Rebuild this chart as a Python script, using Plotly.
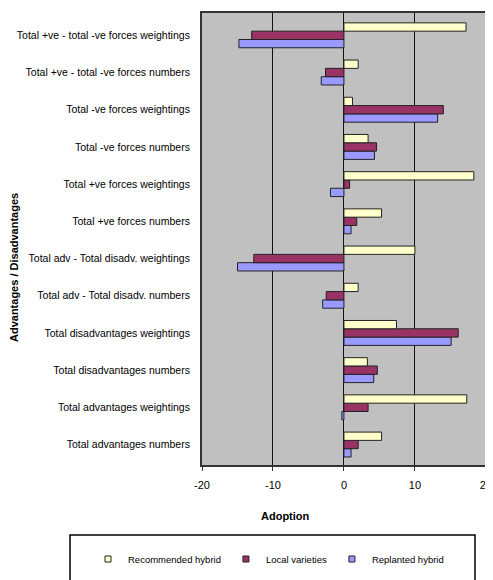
import plotly.graph_objects as go

categories = [
    "Total advantages numbers",
    "Total advantages weightings",
    "Total disadvantages numbers",
    "Total disadvantages weightings",
    "Total adv - Total disadv. numbers",
    "Total adv - Total disadv. weightings",
    "Total +ve forces numbers",
    "Total +ve forces weightings",
    "Total -ve forces numbers",
    "Total -ve forces weightings",
    "Total +ve - total -ve forces numbers",
    "Total +ve - total -ve forces weightings",
]

recommended_hybrid = [5.3, 17.3, 3.3, 7.4, 2.0, 10.0, 5.3, 18.3, 3.4, 1.2, 2.0, 17.2]
local_varieties = [2.0, 3.4, 4.7, 16.1, -2.5, -12.7, 1.8, 0.8, 4.6, 14.0, -2.6, -13.0]
replanted_hybrid = [1.0, -0.3, 4.2, 15.1, -3.0, -15.0, 1.0, -1.9, 4.3, 13.2, -3.2, -14.8]

series_names = ["Recommended hybrid", "Local varieties", "Replanted hybrid"]
series_colors = ["#FFFFCC", "#993366", "#9999FF"]

x_tick_values = [-20, -10, 0, 10, 20]
x_tick_labels = ["-20", "-10", "0", "10", "20"]

fig = go.Figure()
# plotly places grouped horizontal bars bottom-up, so add the lowest bar first
for name, vals, color in [
    (series_names[2], replanted_hybrid, series_colors[2]),
    (series_names[1], local_varieties, series_colors[1]),
    (series_names[0], recommended_hybrid, series_colors[0]),
]:
    fig.add_trace(go.Bar(
        y=categories, x=vals, name=name, orientation="h",
        marker=dict(color=color, line=dict(color="#222222", width=1)),
        showlegend=False,
    ))

# legend entries with small square swatches
for rank, (name, color) in enumerate(zip(series_names, series_colors)):
    fig.add_trace(go.Scatter(
        x=[None], y=[None], mode="markers", name=name,
        marker=dict(symbol="square", size=6, color=color, line=dict(color="#222222", width=1)),
        legendrank=rank + 1, showlegend=True,
    ))

# page has an 8px body margin; figure coords = page coords - 8
W, H = 485, 572
L, R, T, B = 194, 0, 5, 115
ph = H - T - B

def py(pix):
    return (H - B - (pix - 8)) / ph

def px(pix):
    return ((pix - 8) - L) / (W - L - R)

fig.update_layout(
    width=W, height=H,
    margin=dict(l=L, r=R, t=T, b=B, autoexpand=False),
    paper_bgcolor="white",
    plot_bgcolor="#C0C0C0",
    barmode="group",
    bargap=0.33,
    bargroupgap=0.0,
    font=dict(family="Arial, Liberation Sans, sans-serif", color="black", size=10),
    showlegend=True,
    legend=dict(
        orientation="h", x=px(88), y=py(559), xanchor="left", yanchor="middle",
        font=dict(size=9.5), itemwidth=30,
        bgcolor="rgba(0,0,0,0)",
    ),
    xaxis=dict(
        range=[-20, 21], tickvals=x_tick_values, ticktext=x_tick_labels,
        automargin=False, ticklabeloverflow="allow",
        showgrid=True, gridcolor="#111111", gridwidth=1,
        zeroline=True, zerolinecolor="#111111", zerolinewidth=1,
        showline=True, mirror=True, linecolor="#333333", linewidth=2,
        ticks="outside", ticklen=4, tickcolor="#333333",
        ticklabelstandoff=5,
        tickfont=dict(size=11, color="black"),
    ),
    yaxis=dict(
        range=[-0.55, 11.6], automargin=False,
        showgrid=False, zeroline=False,
        showline=True, mirror=True, linecolor="#333333", linewidth=2,
        ticks="", ticklabelstandoff=8,
        tickfont=dict(size=10.5, color="black"),
    ),
    annotations=[
        dict(text="<b>Adoption</b>", x=px(285), y=py(516), xref="paper", yref="paper",
             showarrow=False, font=dict(size=11), xanchor="center", yanchor="middle"),
        dict(text="<b>Advantages / Disadvantages</b>", x=px(14), y=py(268), xref="paper", yref="paper",
             showarrow=False, font=dict(size=11), textangle=-90, xanchor="center", yanchor="middle"),
    ],
    shapes=[
        dict(type="rect", xref="paper", yref="paper", x0=px(70), x1=px(475), y0=py(535), y1=py(600),
             line=dict(color="black", width=1.5), fillcolor="rgba(0,0,0,0)", layer="above"),
    ],
)

fig.write_html("out.html")
